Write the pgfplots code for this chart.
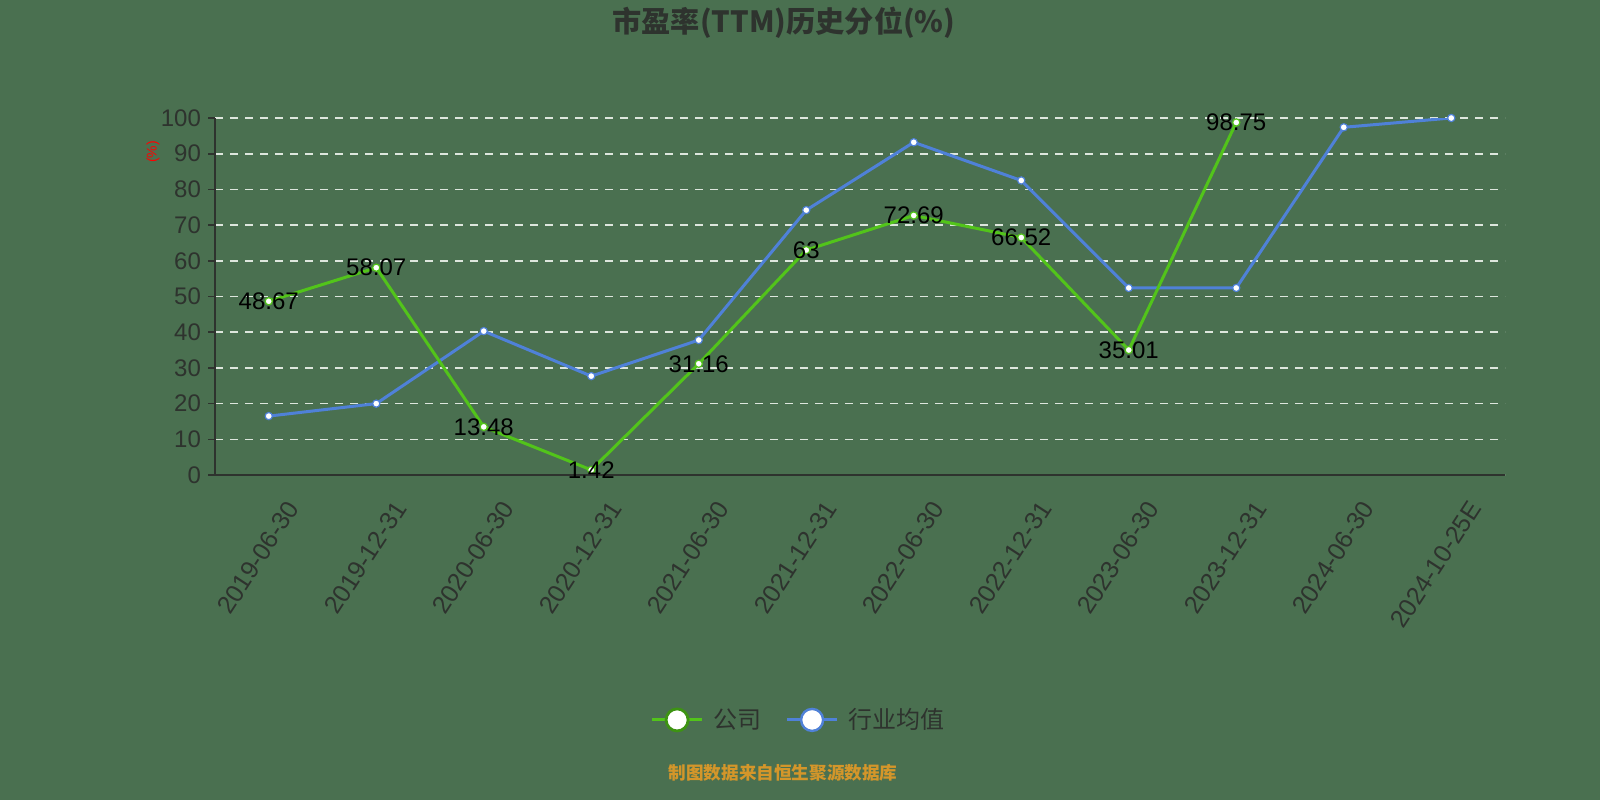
\documentclass[border=0pt]{standalone}
\usepackage{fontspec}
\setmainfont{Liberation Sans}
\newfontfamily\cjk{Noto Sans CJK SC}
\usepackage{pgfplots}
\pgfplotsset{compat=1.18}

\definecolor{bgc}{HTML}{4A7050}
\definecolor{axc}{HTML}{2E332E}
\definecolor{gridc}{HTML}{DDE6DD}
\definecolor{compc}{HTML}{52C41A}
\definecolor{indc}{HTML}{4F81D8}
\definecolor{srcc}{HTML}{D4962A}

\begin{document}
\begin{tikzpicture}
% background, 1600x800 px = 800x400 pt
\fill[bgc] (0pt,0pt) rectangle (800pt,400pt);
\node[font=\cjk\bfseries\fontsize{14.6}{16}\selectfont, text=axc] at (392pt,388.5pt) {市盈率(TTM)历史分位(\%)};
\node[font=\cjk\bfseries\fontsize{8.8}{10}\selectfont, text=srcc] at (391.5pt,13.5pt) {制图数据来自恒生聚源数据库};

\begin{axis}[
    at={(107.5pt,162.5pt)}, anchor=south west,
    scale only axis,
    width=645pt, height=178.5pt,
    xmin=-0.5, xmax=11.5,
    ymin=0, ymax=100,
    axis x line*=bottom, axis y line*=left,
    axis line style={draw=axc, line width=0.8pt},
    xtick={0,...,11},
    xticklabels={2019-06-30,2019-12-31,2020-06-30,2020-12-31,2021-06-30,2021-12-31,2022-06-30,2022-12-31,2023-06-30,2023-12-31,2024-06-30,2024-10-25E},
    x tick style={draw=none},
    extra x ticks={-0.5,0.5,...,11.5},
    extra x tick labels={},
    extra x tick style={major tick length=4pt, tick style={draw=axc, line width=0.8pt}, grid=none},
    ytick={0,10,...,100},
    y tick style={draw=axc, line width=0.8pt},
    major tick length=3.5pt,
    tick align=outside,
    ymajorgrids,
    major grid style={draw=gridc, dash pattern=on 4pt off 3.5pt, line width=0.8pt},
    tick label style={font=\fontsize{12}{14}\selectfont, text=axc},
    /pgf/number format/assume math mode=true,
    xticklabel style={font=\fontsize{12.5}{15}\selectfont, xshift=14pt, yshift=-8pt, rotate=57, anchor=east},
    ylabel={(\%)},
    ylabel style={at={(axis description cs:-0.048,0.905)}, anchor=center, font=\fontsize{7}{8}\selectfont, text=red},
    legend columns=2,
    reverse legend,
    legend style={at={(axis description cs:0.4555,-0.686)}, anchor=center, draw=none, fill=none,
        font=\cjk\fontsize{12}{14}\selectfont, text=axc,
        /tikz/every even column/.append style={column sep=7pt},
        nodes={inner xsep=5pt}},
]

\addplot[indc, line width=1.5pt, mark=*, mark size=1.8pt,
    mark options={fill=white, draw=indc, line width=0.6pt},
    legend image code/.code={
        \draw[indc, line width=1.5pt] (0pt,0pt) -- (25pt,0pt);
        \draw[indc, fill=white, line width=1.2pt] (12.5pt,0pt) circle (5.5pt);
    }]
    coordinates {
        (0,16.5) (1,20.0) (2,40.3) (3,27.7) (4,37.8) (5,74.2)
        (6,93.2) (7,82.5) (8,52.4) (9,52.4) (10,97.4) (11,100)
    };
\addlegendentry{行业均值}

\addplot[compc, line width=1.5pt, mark=*, mark size=1.8pt,
    mark options={fill=white, draw=compc, line width=0.6pt},
    point meta=explicit symbolic,
    nodes near coords={\pgfplotspointmeta},
    every node near coord/.style={anchor=center, text=black, font=\fontsize{12}{14}\selectfont},
    legend image code/.code={
        \draw[compc, line width=1.5pt] (0pt,0pt) -- (25pt,0pt);
        \draw[compc!75!black, fill=white, line width=1.4pt] (12.5pt,0pt) circle (5.5pt);
    }]
    coordinates {
        (0,48.67) [48.67]
        (1,58.07) [58.07]
        (2,13.48) [13.48]
        (3,1.42) [1.42]
        (4,31.16) [31.16]
        (5,63) [63]
        (6,72.69) [72.69]
        (7,66.52) [66.52]
        (8,35.01) [35.01]
        (9,98.75) [98.75]
    };
\addlegendentry{公司}

\end{axis}
\end{tikzpicture}
\end{document}
